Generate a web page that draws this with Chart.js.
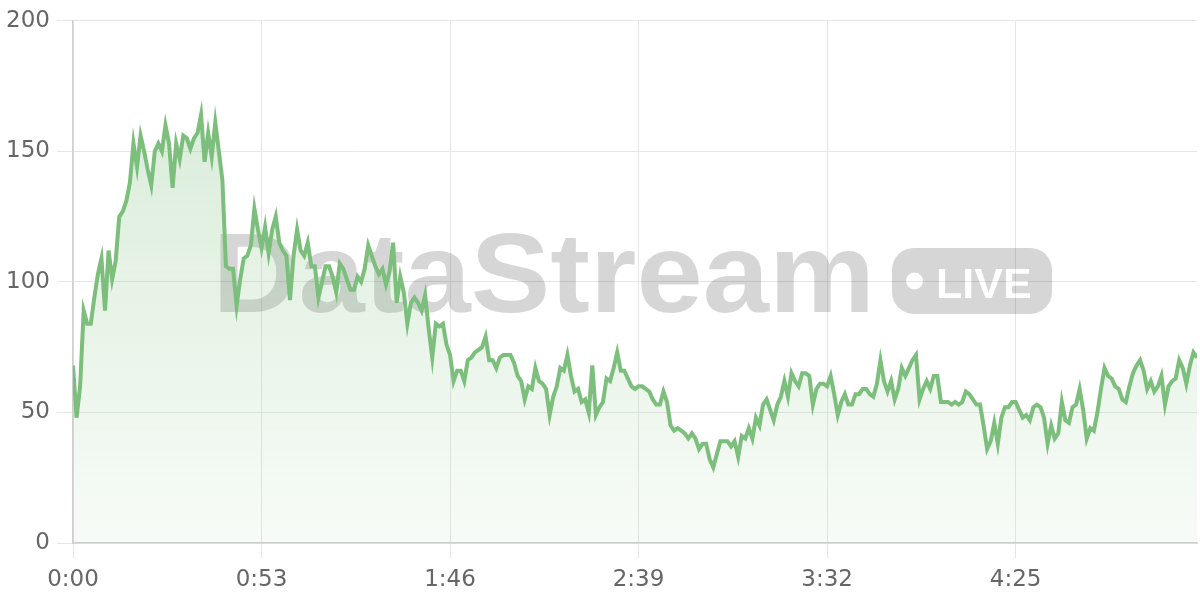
<!DOCTYPE html>
<html>
<head>
<meta charset="utf-8">
<script src="https://cdn.jsdelivr.net/npm/chart.js"></script>
<style>
  html, body { margin: 0; padding: 0; background: #fff; }
  #wrap { width: 1200px; height: 600px; }
</style>
</head>
<body>
<div id="wrap"><canvas id="myChart"></canvas></div>
<script>
// one reading per second, 0:00 .. 5:16
const values = [
  68, 48, 60, 89, 84, 84, 94, 103, 109, 89,
  112, 101, 108, 125, 127, 131, 138, 153, 144, 156,
  150, 143, 137, 150, 153, 150, 160, 153, 136, 153,
  147, 156, 155, 151, 155, 157, 164, 146, 157, 148,
  161, 150, 139, 106, 105, 105, 91, 101, 109, 110,
  114, 128, 120, 113, 121, 111, 120, 125, 115, 112,
  110, 93, 110, 120, 112, 110, 115, 106, 106, 94,
  100, 106, 106, 102, 96, 107, 105, 101, 97, 97,
  102, 100, 105, 114, 110, 106, 103, 105, 99, 104,
  115, 92, 102, 96, 84, 92, 94, 92, 89, 95,
  82, 71, 84, 83, 84, 76, 72, 62, 66, 66,
  62, 70, 71, 73, 74, 75, 79, 70, 70, 67,
  71, 72, 72, 72, 69, 64, 62, 55, 60, 59,
  67, 62, 61, 59, 49, 56, 60, 67, 66, 72,
  64, 58, 59, 54, 55, 50, 68, 49, 52, 54,
  63, 62, 67, 73, 66, 66, 63, 60, 59, 60,
  60, 59, 58, 55, 53, 53, 58, 54, 45, 43,
  44, 43, 42, 40, 42, 40, 36, 38, 38, 32,
  29, 34, 39, 39, 39, 37, 39, 33, 41, 40,
  44, 40, 48, 45, 53, 55, 51, 47, 53, 56,
  62, 56, 65, 62, 60, 65, 65, 64, 53, 59,
  61, 61, 60, 64, 57, 49, 54, 57, 53, 53,
  57, 57, 59, 59, 57, 56, 61, 70, 62, 58,
  62, 55, 59, 67, 64, 67, 70, 72, 55, 59,
  62, 59, 64, 64, 54, 54, 54, 53, 54, 53,
  54, 58, 57, 55, 53, 53, 45, 36, 39, 46,
  38, 48, 52, 52, 54, 54, 51, 48, 49, 47,
  52, 53, 52, 48, 38, 45, 40, 42, 54, 47,
  46, 52, 53, 59, 51, 40, 44, 43, 50, 59,
  67, 64, 63, 60, 59, 55, 54, 60, 65, 68,
  70, 66, 59, 62, 58, 60, 64, 53, 60, 62,
  63, 70, 67, 61, 68, 73, 71,
];

const tickStep = 53;
const tickLabels = ["0:00", "0:53", "1:46", "2:39", "3:32", "4:25"];
const yTicks = [0, 50, 100, 150, 200];

const points = values.map((v, i) => ({ x: i, y: v }));

const green = "rgb(124, 190, 124)";
const labelFont = { family: "DejaVu Sans", size: 23 };

// "DataStream LIVE" watermark, drawn under the line
const watermark = {
  id: "watermark",
  beforeDatasetsDraw(chart) {
    const a = chart.chartArea;
    const cx = (a.left + a.right) / 2;
    const cy = (a.top + a.bottom) / 2;

    const off = document.createElement("canvas");
    off.width = chart.width;
    off.height = chart.height;
    const o = off.getContext("2d");
    o.fillStyle = "#000";

    const base = cy + 30;
    const pillX = cx + 257;
    const pillW = 160;
    const pillH = 66;
    const pillY = base + 2 - pillH;

    o.save();
    o.translate(pillX - 17, base);
    o.scale(1.055, 1);
    o.font = 'bold 113px "Liberation Sans"';
    o.textAlign = "right";
    o.textBaseline = "alphabetic";
    o.fillText("DataStream", 0, 0);
    o.restore();

    o.beginPath();
    o.roundRect(pillX, pillY, pillW, pillH, 22);
    o.fill();

    o.globalCompositeOperation = "destination-out";
    o.beginPath();
    o.arc(pillX + 22.5, pillY + pillH / 2, 8.5, 0, Math.PI * 2);
    o.fill();
    o.font = 'bold 43px "Liberation Sans"';
    o.textAlign = "left";
    o.fillText("LIVE", pillX + 44, pillY + 50);

    const ctx = chart.ctx;
    ctx.save();
    ctx.globalAlpha = 0.16;
    ctx.drawImage(off, 0, 0);
    ctx.restore();
  },
};

const ctx = document.getElementById("myChart");

new Chart(ctx, {
  type: "line",
  data: {
    datasets: [
      {
        label: "stream",
        data: points,
        borderColor: green,
        borderWidth: 4,
        pointRadius: 0,
        tension: 0,
        fill: "origin",
        backgroundColor: (c) => {
          const area = c.chart.chartArea;
          if (!area) return "rgba(124,190,124,0.15)";
          const g = c.chart.ctx.createLinearGradient(0, area.top, 0, area.bottom);
          g.addColorStop(0, "rgba(124,190,124,0.32)");
          g.addColorStop(1, "rgba(124,190,124,0.06)");
          return g;
        },
      },
    ],
  },
  options: {
    responsive: true,
    maintainAspectRatio: false,
    animation: false,
    layout: { padding: { left: 7, top: 20, right: 3, bottom: 0 } },
    plugins: {
      legend: { display: false },
      tooltip: { enabled: false },
    },
    scales: {
      x: {
        type: "linear",
        min: 0,
        max: values.length - 1,
        grid: { color: "#e6e6e6", tickLength: 15 },
        border: { color: "#cfcfcf", width: 1.5 },
        afterBuildTicks: (scale) => {
          scale.ticks = tickLabels.map((_, i) => ({ value: i * tickStep }));
        },
        afterFit: (scale) => {
          scale.height = 57;
        },
        ticks: {
          autoSkip: false,
          maxRotation: 0,
          padding: 8,
          color: "#666",
          font: labelFont,
          callback: (v) => tickLabels[Math.round(v / tickStep)],
        },
      },
      y: {
        min: yTicks[0],
        max: yTicks[yTicks.length - 1],
        grid: { color: "#e6e6e6", tickLength: 16 },
        border: { color: "#cfcfcf", width: 1.5 },
        afterFit: (scale) => {
          scale.width = 66;
        },
        ticks: {
          stepSize: yTicks[1] - yTicks[0],
          padding: 7,
          color: "#666",
          font: labelFont,
        },
      },
    },
  },
  plugins: [watermark],
});
</script>
</body>
</html>
